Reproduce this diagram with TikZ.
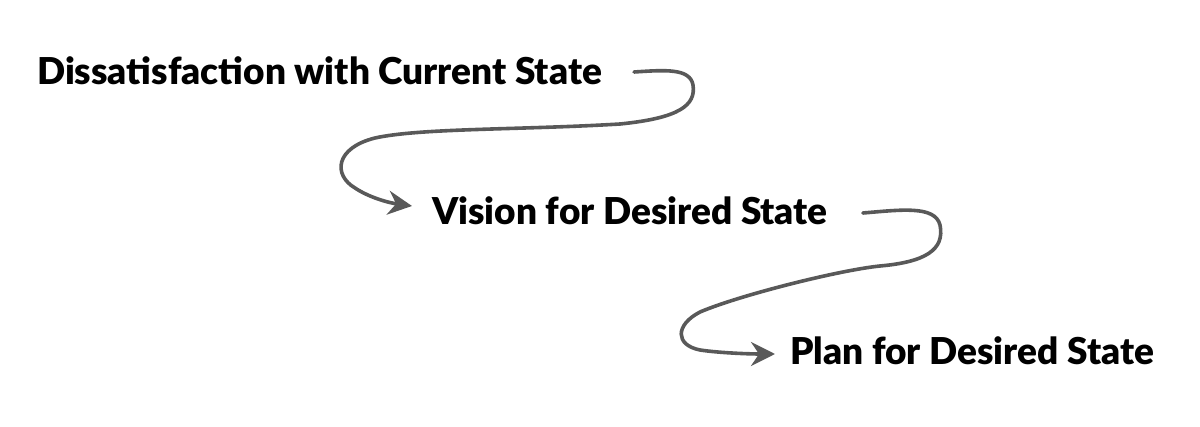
\documentclass[tikz,border=0pt]{standalone}
\usepackage{fontspec}
\setmainfont{Lato}[BoldFont={Lato Black}]
\usetikzlibrary{arrows.meta}
\definecolor{linegray}{HTML}{595959}
\tikzset{
  label text/.style={anchor=base west, inner sep=0pt, font=\fontsize{37}{42}\selectfont\bfseries, text=black},
  flow/.style={draw=linegray, line width=3.6pt, line cap=round, line join=round,
    -{Stealth[length=24pt, width=24pt, inset=8pt]}}
}
\begin{document}
\begin{tikzpicture}[x=1pt, y=-1pt]
\useasboundingbox (0,0) rectangle (1200,427);
\node[label text] (t1) at (37,85) {Dissatisfaction with Current State};
\node[label text] (t2) at (432,225) {Vision for Desired State};
\node[label text] (t3) at (790,365) {Plan for Desired State};

\coordinate (s1) at ([xshift=32pt,yshift=13pt]t1.base east);
\coordinate (e1) at ([xshift=-20pt,yshift=19pt]t2.base west);
\coordinate (s2) at ([xshift=35pt,yshift=12pt]t2.base east);
\coordinate (e2) at ([xshift=-15pt,yshift=11pt]t3.base west);

\draw[flow] (s1)
  .. controls (665,70) and (690,68) .. (693,85)
  .. controls (696,105) and (680,118) .. (620,124)
  .. controls (520,130) and (420,128) .. (375,138)
  .. controls (335,148) and (333,175) .. (355,188)
  .. controls (370,198) and (390,203) .. (e1);

\draw[flow] (s2)
  .. controls (900,210) and (935,205) .. (940,225)
  .. controls (945,250) and (925,262) .. (880,266)
  .. controls (840,270) and (740,295) .. (700,312)
  .. controls (675,325) and (675,345) .. (700,350)
  .. controls (720,353) and (750,354) .. (e2);
\end{tikzpicture}
\end{document}
